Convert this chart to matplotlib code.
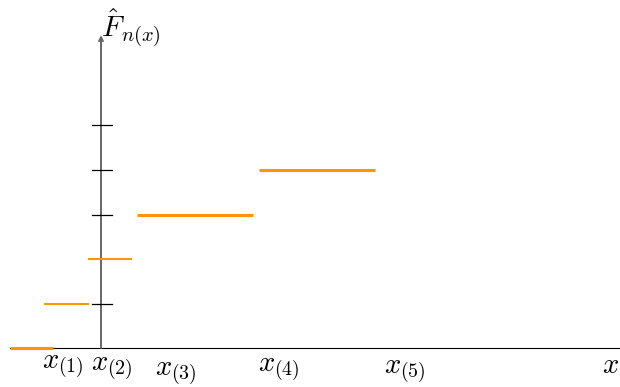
import matplotlib
matplotlib.use("Agg")
from matplotlib import pyplot as plt

plt.rcParams['mathtext.fontset'] = 'cm'

# empirical cdf steps (drawing units, one unit per step height)
step_left = [-2.04, -1.28, -0.29, 0.81, 3.55]
step_right = [-1.08, -0.27, 0.70, 3.42, 6.16]
step_level = [0, 1, 2, 3, 4]
step_width = [2.2, 1.5, 1.5, 2.2, 2.2]

# y-axis tick marks
tick_levels = [1, 3, 4, 5]

# order statistic labels
label_text = [r'$x_{(1)}$', r'$x_{(2)}$', r'$x_{(3)}$', r'$x_{(4)}$', r'$x_{(5)}$', r'$x$']
label_x = [-0.85, 0.25, 1.69, 4.0, 6.83, 11.46]
label_y = [-0.43, -0.47, -0.58, -0.5, -0.55, -0.38]

orange = '#ff9500'

fig = plt.figure(figsize=(6.2, 3.87), dpi=100)
ax = fig.add_axes([0, 0, 1, 1])
ax.set_xlim(-2.270, 11.663)
ax.set_ylim(-0.876, 7.820)
ax.axis('off')

# x axis
ax.plot([-2.04, 11.663], [0, 0], color='black', lw=0.8, zorder=1)
# y axis with arrow
ax.annotate('', xy=(0, 7.03), xytext=(0, 0),
            arrowprops=dict(arrowstyle='->', color='#666666', lw=1.4,
                            mutation_scale=7, shrinkA=0, shrinkB=0),
            zorder=2)
for t in tick_levels:
    ax.plot([-0.2, 0.24], [t, t], color='black', lw=0.9, zorder=3)

for l, r, y, w in zip(step_left, step_right, step_level, step_width):
    ax.plot([l, r], [y, y], color=orange, lw=w, solid_capstyle='butt', zorder=4)

for s, x, y in zip(label_text, label_x, label_y):
    ax.text(x, y, s, fontsize=20.5, ha='center', va='center')

ax.text(0.0, 7.2, r'$\hat{F}_{n(x)}$', fontsize=21, ha='left', va='center')

fig.savefig('out.png', dpi=100)
